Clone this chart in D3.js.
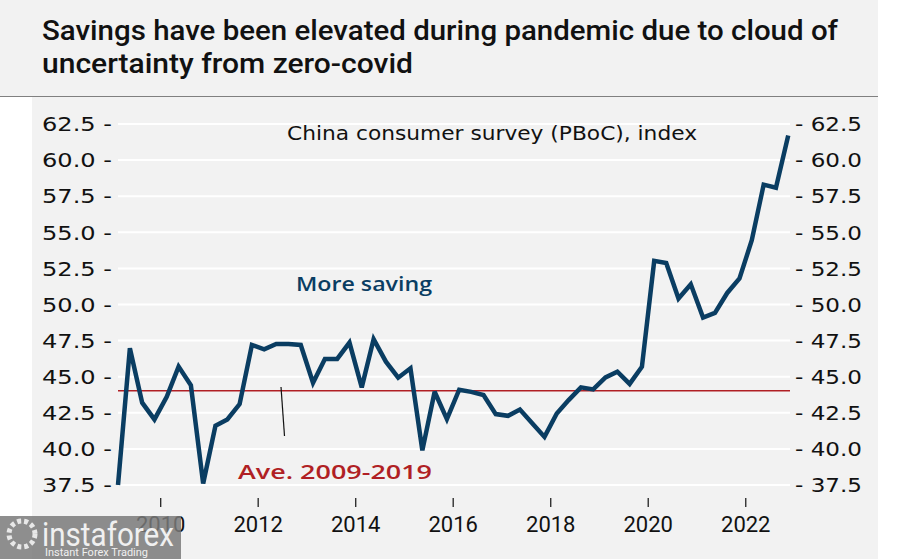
<!DOCTYPE html>
<html><head><meta charset="utf-8">
<script src="https://cdn.jsdelivr.net/npm/d3@7/dist/d3.min.js"></script>
<style>html,body{margin:0;padding:0;background:#fff;}svg{display:block;}</style>
</head><body>
<svg id="chart" width="902" height="559"></svg>
<script>
// ---- data ----
const titleLines = ["Savings have been elevated during pandemic due to cloud of", "uncertainty from zero-covid"];
const seriesLabel = "China consumer survey (PBoC), index";
const lineLabel = "More saving";
const avgLabel = "Ave. 2009-2019";
const startYear = 2009;
const values = [37.5, 46.97, 43.2, 42.04, 43.6, 45.7, 44.4, 37.6, 41.6, 42.04,
  43.1, 47.2, 46.9, 47.27, 47.27, 47.2, 44.58, 46.23, 46.23, 47.36,
  44.26, 47.6, 46.04, 44.93, 45.58, 39.9, 43.96, 42.06, 44.1, 43.95,
  43.73, 42.41, 42.29, 42.73, 41.78, 40.83, 42.45, 43.38, 44.26, 44.12,
  44.95, 45.35, 44.5, 45.69, 53.02, 52.88, 50.41, 51.4, 49.1, 49.42,
  50.8, 51.8, 54.45, 58.3, 58.09, 61.7];
const average = 44.03;
const yTicks = [37.5, 40.0, 42.5, 45.0, 47.5, 50.0, 52.5, 55.0, 57.5, 60.0, 62.5];
const xTickYears = [2010, 2012, 2014, 2016, 2018, 2020, 2022];

// quarterly points at mid-quarter
const data = values.map((v, i) => ({
  date: new Date(startYear + Math.floor(i / 4), (i % 4) * 3 + 1, 15),
  value: v
}));

const svg = d3.select("#chart");
const navy = "#0a3d62", red = "#b01f24", bg = "#f2f2f2";

// backgrounds
svg.append("rect").attr("x", 0).attr("y", 0).attr("width", 878).attr("height", 96).attr("fill", bg);
svg.append("rect").attr("x", 32).attr("y", 96).attr("width", 846).attr("height", 463).attr("fill", bg);
svg.append("line").attr("x1", 0).attr("x2", 878).attr("y1", 96.5).attr("y2", 96.5).attr("stroke", "#808080").attr("stroke-width", 1);

function fit(sel, w) { sel.attr("textLength", w).attr("lengthAdjust", "spacingAndGlyphs"); return sel; }

// title
const title = svg.append("g").attr("font-family", "Roboto, sans-serif").attr("font-size", 28).attr("font-weight", 500).attr("fill", "#111");
fit(title.append("text").attr("x", 42).attr("y", 40).text(titleLines[0]), 796);
fit(title.append("text").attr("x", 42).attr("y", 73).text(titleLines[1]), 371);

// scales
const x = d3.scaleTime().domain([new Date(2009, 0, 1), new Date(2023, 0, 1)]).range([112, 794.5]);
const y = d3.scaleLinear().domain([37.5, 62.5]).range([485, 124]);

// gridlines
svg.append("g").selectAll("line").data(yTicks).join("line")
  .attr("x1", 118).attr("x2", 790)
  .attr("y1", d => y(d)).attr("y2", d => y(d))
  .attr("stroke", "#ffffff").attr("stroke-width", 2);

// left & right tick labels
const fmt = d3.format(".1f");
svg.append("g").attr("font-family", "'DejaVu Sans', sans-serif").attr("font-size", 20).attr("fill", "#111")
  .selectAll("text").data(yTicks).join("text")
  .attr("x", 112).attr("y", d => y(d)).attr("dy", "0.36em").attr("text-anchor", "end")
  .attr("textLength", 70).attr("lengthAdjust", "spacingAndGlyphs")
  .text(d => fmt(d) + " -");
svg.append("g").attr("font-family", "'DejaVu Sans', sans-serif").attr("font-size", 20).attr("fill", "#111")
  .selectAll("text").data(yTicks).join("text")
  .attr("x", 795).attr("y", d => y(d)).attr("dy", "0.36em").attr("text-anchor", "start")
  .attr("textLength", 67).attr("lengthAdjust", "spacingAndGlyphs")
  .text(d => "- " + fmt(d));

// x axis ticks
const xg = svg.append("g");
xg.selectAll("line").data(xTickYears).join("line")
  .attr("x1", d => x(new Date(d, 0, 1))).attr("x2", d => x(new Date(d, 0, 1)))
  .attr("y1", 498).attr("y2", 507).attr("stroke", "#111").attr("stroke-width", 1.2);
xg.selectAll("text").data(xTickYears).join("text")
  .attr("x", d => x(new Date(d, 0, 1))).attr("y", 532).attr("text-anchor", "middle")
  .attr("font-family", "Roboto, sans-serif").attr("font-size", 22).attr("fill", "#111")
  .text(d => d);

// average line
svg.append("line").attr("x1", 118).attr("x2", 790).attr("y1", y(average)).attr("y2", y(average))
  .attr("stroke", red).attr("stroke-width", 1.5);

// series line
svg.append("path").datum(data)
  .attr("fill", "none").attr("stroke", navy).attr("stroke-width", 4.5)
  .attr("stroke-linejoin", "miter").attr("stroke-miterlimit", 3)
  .attr("d", d3.line().x(d => x(d.date)).y(d => y(d.value)));

// annotations
const ann = svg.append("g").attr("font-family", "'DejaVu Sans', sans-serif").attr("font-size", 20);
fit(ann.append("text").attr("x", 287).attr("y", 140).attr("fill", "#111").text(seriesLabel), 410);
fit(ann.append("text").attr("x", 296).attr("y", 291).attr("fill", navy).attr("font-family", "'Open Sans', sans-serif").attr("font-weight", 600).text(lineLabel), 136);
fit(ann.append("text").attr("x", 238).attr("y", 479).attr("fill", red).attr("font-family", "'Open Sans', sans-serif").attr("font-weight", 600).text(avgLabel), 194);
svg.append("line").attr("x1", 281).attr("y1", 387).attr("x2", 284.5).attr("y2", 436).attr("stroke", "#111").attr("stroke-width", 1.2);

// watermark
const wm = svg.append("g");
wm.append("rect").attr("x", 0).attr("y", 516).attr("width", 181).attr("height", 43).attr("fill", "#7a7a7a").attr("opacity", 0.85);
wm.append("circle").attr("cx", 22).attr("cy", 534).attr("r", 13).attr("fill", "none").attr("stroke", "#e8e8e8").attr("stroke-width", 5).attr("stroke-dasharray", "4 3");
fit(wm.append("text").attr("x", 42).attr("y", 546).attr("font-family", "Roboto, sans-serif").attr("font-size", 33).attr("fill", "#f0f0f0").text("instaforex"), 132);
fit(wm.append("text").attr("x", 45).attr("y", 556).attr("font-family", "Roboto, sans-serif").attr("font-size", 10).attr("fill", "#f0f0f0").text("Instant Forex Trading"), 103);
</script>
</body></html>
